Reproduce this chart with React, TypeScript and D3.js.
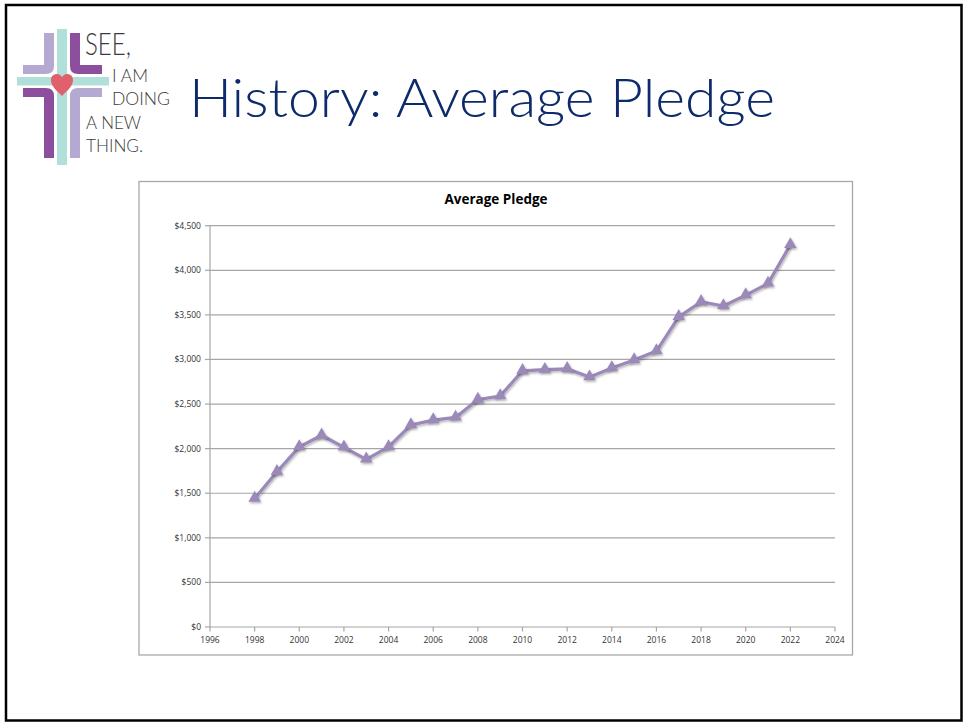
import React from "react";
import * as d3 from "d3";

const years = [1998, 1999, 2000, 2001, 2002, 2003, 2004, 2005, 2006, 2007, 2008, 2009, 2010, 2011, 2012, 2013, 2014, 2015, 2016, 2017, 2018, 2019, 2020, 2021, 2022];
const pledges = [1440, 1740, 2020, 2150, 2015, 1880, 2020, 2265, 2320, 2350, 2550, 2590, 2873, 2885, 2895, 2802, 2905, 2993, 3094, 3478, 3647, 3600, 3722, 3853, 4285];
const xTicks = [1996, 1998, 2000, 2002, 2004, 2006, 2008, 2010, 2012, 2014, 2016, 2018, 2020, 2022, 2024];
const yTicks = [0, 500, 1000, 1500, 2000, 2500, 3000, 3500, 4000, 4500];

export default function App() {
  const x = d3.scaleLinear().domain([1996, 2024]).range([210, 835]);
  const y = d3.scaleLinear().domain([0, 4500]).range([627, 225.7]);
  const fmt = d3.format("$,");
  const line = d3
    .line<number>()
    .x((_, i) => x(years[i]))
    .y((d) => y(d));
  const tri = d3.symbol().type(d3.symbolTriangle).size(68)() as string;
  const purple = "#9b8ab9";
  const chartFont = "'Open Sans', 'Noto Sans', sans-serif";

  return (
    <svg
      width={964}
      height={723}
      style={{ position: "absolute", left: 0, top: 0, background: "#fff" }}
    >
      <defs>
        <filter id="sh" x="-50%" y="-50%" width="200%" height="200%">
          <feDropShadow dx="1" dy="1.5" stdDeviation="1" floodColor="#000" floodOpacity="0.3" />
        </filter>
      </defs>
      {/* slide frame */}
      <rect x={6} y={5} width={955.5} height={715.5} fill="#fff" stroke="#000" strokeWidth={2.5} />

      {/* logo */}
      <g>
        <rect x={57} y={29} width={10} height={136} fill="#b1e0da" />
        <rect x={17} y={77} width={92} height={8.5} fill="#b1e0da" />
        <path d="M44,33 H54 V66 Q54,74 46,74 H23 V65 H44 Z" fill="#b4a9d0" />
        <path d="M70,33 H80 V65 H102 V74 H78 Q70,74 70,66 Z" fill="#8d4f9d" />
        <path d="M23,88 H46 Q54,88 54,96 V158 H44 V97 H23 Z" fill="#8d4f9d" />
        <path d="M78,88 H102 V97 H80 V158 H70 V96 Q70,88 78,88 Z" fill="#b4a9d0" />
        <path
          d="M62,96 C56,90 51,86 51,80 C51,76 54,74 57,74 C59.5,74 61,75.5 62,77 C63,75.5 64.5,74 67,74 C70,74 73,76 73,80 C73,86 68,90 62,96 Z"
          fill="#e0616c"
        />
        <g fill="#3b3b3b" fontFamily="Lato, 'Open Sans', sans-serif" fontWeight={300}>
          <text x={85} y={55} fontSize={31} textLength={46} lengthAdjust="spacingAndGlyphs">SEE,</text>
          <text x={112} y={82} fontSize={17.5} textLength={36} lengthAdjust="spacingAndGlyphs">I AM</text>
          <text x={112} y={105} fontSize={17.5} textLength={58} lengthAdjust="spacingAndGlyphs">DOING</text>
          <text x={86} y={129} fontSize={17.5} textLength={55} lengthAdjust="spacingAndGlyphs">A NEW</text>
          <text x={86} y={152} fontSize={17.5} textLength={57} lengthAdjust="spacingAndGlyphs">THING.</text>
        </g>
      </g>

      {/* slide title */}
      <text
        x={189}
        y={117}
        fontSize={53}
        fill="#0d2a6a"
        fontFamily="Lato, 'Open Sans', sans-serif"
        fontWeight={300}
        textLength={586}
        lengthAdjust="spacingAndGlyphs"
      >
        History: Average Pledge
      </text>

      {/* chart box */}
      <rect x={139} y={181.5} width={713.5} height={473.5} fill="#fff" stroke="#a8a8a8" strokeWidth={1.3} />
      <text
        x={496}
        y={204}
        textAnchor="middle"
        fontSize={13.5}
        fontWeight="bold"
        fill="#000"
        fontFamily={chartFont}
      >
        Average Pledge
      </text>

      {yTicks.map((t) => (
        <g key={t}>
          {t > 0 && (
            <line x1={210} x2={835} y1={y(t)} y2={y(t)} stroke="#a6a6a6" strokeWidth={1.2} />
          )}
          <line x1={205} x2={210} y1={y(t)} y2={y(t)} stroke="#a6a6a6" strokeWidth={1.2} />
          <text
            x={201}
            y={y(t) + 3}
            textAnchor="end"
            fontSize={8.5}
            fill="#333"
            fontFamily={chartFont}
          >
            {fmt(t)}
          </text>
        </g>
      ))}
      <line x1={210} x2={210} y1={225.7} y2={627} stroke="#a6a6a6" strokeWidth={1.2} />
      <line x1={210} x2={835} y1={627} y2={627} stroke="#a6a6a6" strokeWidth={1.2} />
      {xTicks.map((t) => (
        <g key={t}>
          <line x1={x(t)} x2={x(t)} y1={627} y2={631.5} stroke="#a6a6a6" strokeWidth={1.2} />
          <text
            x={x(t)}
            y={643}
            textAnchor="middle"
            fontSize={8.5}
            fill="#333"
            fontFamily={chartFont}
          >
            {t}
          </text>
        </g>
      ))}

      <path d={line(pledges) || ""} fill="none" stroke={purple} strokeWidth={3.2} strokeLinejoin="round" filter="url(#sh)" />
      {pledges.map((v, i) => (
        <path
          key={years[i]}
          d={tri}
          transform={`translate(${x(years[i])},${y(v) - 0.5})`}
          fill={purple}
          filter="url(#sh)"
        />
      ))}
    </svg>
  );
}
